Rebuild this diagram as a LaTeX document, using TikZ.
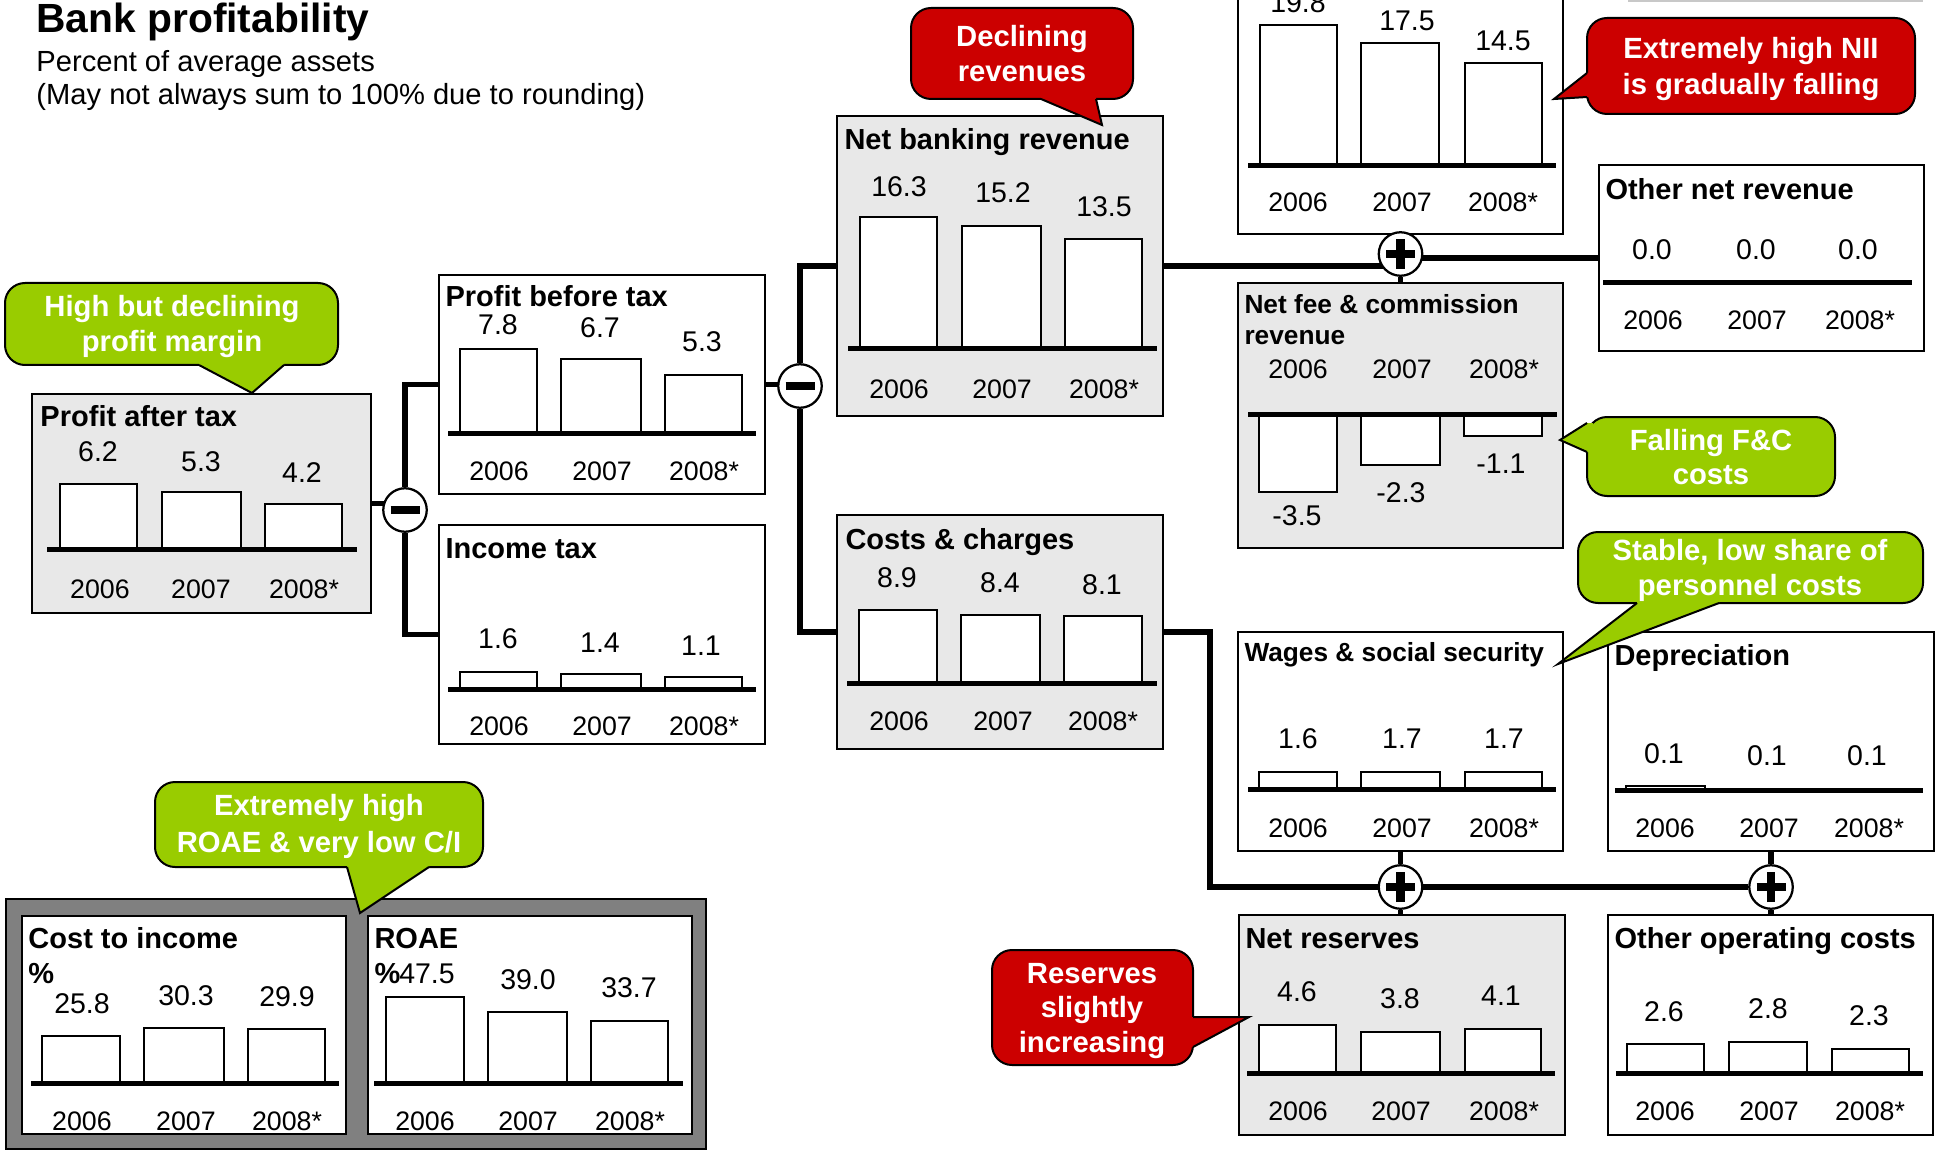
\documentclass[tikz,border=0pt]{standalone}
\usepackage{fontspec}
\setmainfont{Liberation Sans}
\usetikzlibrary{fit,backgrounds}
\pgfdeclarelayer{paper}
\pgfsetlayers{paper,background,main}
\definecolor{boxgray}{HTML}{E8E8E8}
\definecolor{framegray}{HTML}{808080}
\definecolor{cred}{HTML}{CC0000}
\definecolor{cgreen}{HTML}{99CC00}
\definecolor{linegray}{HTML}{C8C8C8}
\newcommand\mybar[4]{\draw[barst] (#1,#3) rectangle (#2,#4);}
\newcommand\myyears[5]{%
  \node[yr] (#1y1) at (#3,#2) {2006};
  \node[yr] (#1y2) at (#4,#2) {2007};
  \node[yr] (#1y3) at (#5,#2) {2008*};}
\begin{document}
\begin{tikzpicture}[x=0.4pt,y=-0.4pt,
  panel/.style={draw=black, line width=1pt, inner sep=0pt, fill=white},
  graypanel/.style={panel, fill=boxgray},
  barst/.style={draw=black, line width=0.8pt, fill=white},
  axisline/.style={line width=2pt},
  conn/.style={line width=2.2pt},
  ttl/.style={anchor=base west, inner sep=0pt, font=\bfseries\fontsize{11.6}{13}\selectfont},
  sttl/.style={anchor=base west, inner sep=0pt, font=\bfseries\fontsize{10.5}{12}\selectfont},
  val/.style={anchor=base, inner sep=0pt, font=\fontsize{11.4}{13}\selectfont},
  yr/.style={anchor=base, inner sep=0pt, font=\fontsize{10.7}{13}\selectfont},
  ctext/.style={anchor=base, inner sep=0pt, text=white, font=\bfseries\fontsize{11.7}{14}\selectfont},
  op/.style={circle, draw=black, line width=0.9pt, fill=white, minimum size=17.4pt, inner sep=0pt},
  opminus/.style={op, path picture={\draw[line width=3.5pt] ([xshift=-5.8pt]path picture bounding box.center) -- ([xshift=5.8pt]path picture bounding box.center);}},
  opplus/.style={op, path picture={\draw[line width=3.4pt] ([xshift=-5.8pt]path picture bounding box.center) -- ([xshift=5.8pt]path picture bounding box.center) ([yshift=-6pt]path picture bounding box.center) -- ([yshift=6pt]path picture bounding box.center);}},
  bubble/.style={draw=black, line width=0.8pt, rounded corners=8pt, inner sep=0pt},
  tailline/.style={draw=black, line width=0.8pt},
]
\useasboundingbox (0,0) rectangle (1943,1151);
\begin{pgfonlayer}{paper}
\fill[white] (0,0) rectangle (1943,1151);
\end{pgfonlayer}

% ---------- heading ----------
\node[anchor=base west, inner sep=0pt, font=\bfseries\fontsize{16.3}{19}\selectfont] (title) at (36,33) {Bank profitability};
\node[anchor=base west, inner sep=0pt, font=\fontsize{11.65}{14}\selectfont] (sub1) at (36,72) {Percent of average assets};
\node[anchor=base west, inner sep=0pt, font=\fontsize{11.65}{14}\selectfont] (sub2) at (36,105) {(May not always sum to 100\% due to rounding)};
\draw[linegray, line width=1.2pt] (1628,1) -- (1923,1);

% ---------- Profit after tax ----------
\node[graypanel, fit={(32,394) (371,613)}] (pat) {};
\node[ttl] (patt) at (40,427) {Profit after tax};
\mybar{60}{137}{484}{549}\mybar{162}{241}{492}{549}\mybar{265}{342}{504}{549}
\draw[axisline] (47,549) -- (357,549);
\node[val] (patv1) at (98,461) {6.2};
\node[val] (patv2) at (201,471) {5.3};
\node[val] (patv3) at (302,482) {4.2};
\myyears{pat}{598}{100}{201}{304}

% ---------- Profit before tax ----------
\node[panel, fit={(439,275) (765,494)}] (pbt) {};
\node[ttl] (pbtt) at (445,307) {Profit before tax};
\mybar{460}{537}{349}{433}\mybar{561}{641}{359}{433}\mybar{665}{742}{375}{433}
\draw[axisline] (448,433) -- (756,433);
\node[val] (pbtv1) at (498,335) {7.8};
\node[val] (pbtv2) at (600,338) {6.7};
\node[val] (pbtv3) at (702,352) {5.3};
\myyears{pbt}{480}{499}{602}{704}

% ---------- Income tax ----------
\node[panel, fit={(439,525) (765,744)}] (itx) {};
\node[ttl] (itxt) at (445,558) {Income tax};
\mybar{460}{537}{672}{689}\mybar{561}{641}{674}{689}\mybar{665}{742}{677}{689}
\draw[axisline] (448,689) -- (756,689);
\node[val] (itxv1) at (498,648) {1.6};
\node[val] (itxv2) at (600,652) {1.4};
\node[val] (itxv3) at (701,655) {1.1};
\myyears{itx}{735}{499}{602}{704}

% ---------- Net banking revenue ----------
\node[graypanel, fit={(837,116) (1163,416)}] (nbr) {};
\node[ttl] (nbrt) at (844,150) {Net banking revenue};
\mybar{860}{937}{217}{349}\mybar{962}{1041}{226}{349}\mybar{1065}{1142}{239}{349}
\draw[axisline] (848,349) -- (1157,349);
\node[val] (nbrv1) at (899,197) {16.3};
\node[val] (nbrv2) at (1003,203) {15.2};
\node[val] (nbrv3) at (1104,217) {13.5};
\myyears{nbr}{398}{899}{1002}{1104}

% ---------- Costs & charges ----------
\node[graypanel, fit={(837,515) (1163,749)}] (cc) {};
\node[ttl] (cct) at (845,549) {Costs \& charges};
\mybar{859}{937}{610}{683}\mybar{961}{1040}{615}{683}\mybar{1064}{1142}{616}{683}
\draw[axisline] (847,683) -- (1157,683);
\node[val] (ccv1) at (897,587) {8.9};
\node[val] (ccv2) at (1000,592) {8.4};
\node[val] (ccv3) at (1102,594) {8.1};
\myyears{cc}{730}{899}{1003}{1103}

% ---------- Net interest income (cut) ----------
\node[panel, fit={(1238,-30) (1563,234)}] (nii) {};
\mybar{1260}{1337}{25}{166}\mybar{1361}{1439}{43}{166}\mybar{1465}{1542}{63}{166}
\draw[axisline] (1248,166) -- (1556,166);
\node[val] (niiv1) at (1298,13) {19.8};
\node[val] (niiv2) at (1407,31) {17.5};
\node[val] (niiv3) at (1503,51) {14.5};
\myyears{nii}{212}{1298}{1402}{1503}

% ---------- Other net revenue ----------
\node[panel, fit={(1599,165) (1924,351)}] (onr) {};
\node[ttl] (onrt) at (1605,200) {Other net revenue};
\draw[axisline] (1603,283) -- (1912,283);
\node[val] (onrv1) at (1652,260) {0.0};
\node[val] (onrv2) at (1756,260) {0.0};
\node[val] (onrv3) at (1858,260) {0.0};
\myyears{onr}{330}{1653}{1757}{1860}

% ---------- Net fee & commission revenue ----------
\node[graypanel, fit={(1238,283) (1563,548)}] (nfc) {};
\node[sttl] (nfct) at (1244,314) {Net fee \& commission};
\node[sttl] (nfct2) at (1244,345) {revenue};
\myyears{nfc}{379}{1298}{1402}{1504}
\mybar{1259}{1337}{414}{492}\mybar{1361}{1440}{414}{465}\mybar{1464}{1542}{414}{436}
\draw[axisline] (1248,414) -- (1557,414);
\node[val] (nfcv1) at (1297,525) {-3.5};
\node[val] (nfcv2) at (1401,502) {-2.3};
\node[val] (nfcv3) at (1501,473) {-1.1};

% ---------- Wages & social security ----------
\node[panel, fit={(1238,632) (1563,851)}] (wag) {};
\node[sttl] (wagt) at (1244,661) {Wages \& social security};
\mybar{1259}{1337}{772}{789}\mybar{1361}{1440}{772}{789}\mybar{1465}{1542}{772}{789}
\draw[axisline] (1248,789) -- (1556,789);
\node[val] (wagv1) at (1298,748) {1.6};
\node[val] (wagv2) at (1402,748) {1.7};
\node[val] (wagv3) at (1504,748) {1.7};
\myyears{wag}{837}{1298}{1402}{1504}

% ---------- Depreciation ----------
\node[panel, fit={(1608,632) (1934,851)}] (dep) {};
\node[ttl] (dept) at (1614,665) {Depreciation};
\mybar{1626}{1705}{786}{790}
\draw[axisline] (1615,790) -- (1923,790);
\node[val] (depv1) at (1664,763) {0.1};
\node[val] (depv2) at (1767,765) {0.1};
\node[val] (depv3) at (1867,765) {0.1};
\myyears{dep}{837}{1665}{1769}{1869}

% ---------- Net reserves ----------
\node[graypanel, fit={(1239,915) (1565,1135)}] (nres) {};
\node[ttl] (nrest) at (1245,948) {Net reserves};
\mybar{1259}{1336}{1025}{1073}\mybar{1361}{1440}{1032}{1073}\mybar{1465}{1541}{1029}{1073}
\draw[axisline] (1247,1073) -- (1555,1073);
\node[val] (nresv1) at (1297,1001) {4.6};
\node[val] (nresv2) at (1400,1008) {3.8};
\node[val] (nresv3) at (1501,1005) {4.1};
\myyears{nres}{1120}{1298}{1401}{1504}

% ---------- Other operating costs ----------
\node[panel, fit={(1608,915) (1933,1135)}] (ooc) {};
\node[ttl] (ooct) at (1614,948) {Other operating costs};
\mybar{1627}{1704}{1044}{1073}\mybar{1729}{1807}{1042}{1073}\mybar{1832}{1909}{1049}{1073}
\draw[axisline] (1616,1073) -- (1923,1073);
\node[val] (oocv1) at (1664,1021) {2.6};
\node[val] (oocv2) at (1768,1018) {2.8};
\node[val] (oocv3) at (1869,1025) {2.3};
\myyears{ooc}{1120}{1665}{1769}{1870}

% ---------- Ratios frame ----------
\node[draw=black, line width=1pt, fill=framegray, inner sep=0pt, fit={(6,899) (706,1149)}] (frame) {};
\node[panel, fit={(22,916) (346,1134)}] (cti) {};
\node[ttl] (ctit) at (28,948) {Cost to income};
\node[ttl] (ctip) at (28,983) {\%};
\mybar{42}{120}{1036}{1083}\mybar{144}{224}{1028}{1083}\mybar{248}{325}{1029}{1083}
\draw[axisline] (31,1083) -- (339,1083);
\node[val] (ctiv1) at (82,1013) {25.8};
\node[val] (ctiv2) at (186,1005) {30.3};
\node[val] (ctiv3) at (287,1006) {29.9};
\myyears{cti}{1130}{82}{186}{287}

\node[panel, fit={(368,916) (692,1134)}] (roae) {};
\node[ttl] (roaet) at (374,948) {ROAE};
\node[ttl] (roaep) at (374,983) {\%};
\mybar{386}{464}{997}{1083}\mybar{488}{567}{1012}{1083}\mybar{591}{668}{1021}{1083}
\draw[axisline] (374,1083) -- (683,1083);
\node[val] (roaev1) at (427,983) {47.5};
\node[val] (roaev2) at (528,989) {39.0};
\node[val] (roaev3) at (629,997) {33.7};
\myyears{roae}{1130}{425}{528}{630}

% ---------- operators ----------
\node[opminus] (m1) at (405,510) {};
\node[opminus] (m2) at (800,386) {};
\node[opplus] (p1) at (1400.5,254) {};
\node[opplus] (p2) at (1400.5,887) {};
\node[opplus] (p3) at (1771,887) {};
\coordinate (cbend) at (1210,887);

% ---------- connectors ----------
\begin{pgfonlayer}{background}
\draw[conn] (pat.east) -- (pat.east -| m1);
\draw[conn] (pbt.west) -| (m1);
\draw[conn] (itx.west) -| (m1);
\draw[conn] (pbt.east) -- (pbt.east -| m2);
\draw[conn] (nbr.west) -| (m2);
\draw[conn] (cc.west) -| (m2);
\draw[conn] (nbr.east) -- (nbr.east -| p1);
\draw[conn] (p1 |- onr.west) -- (onr.west);
\draw[conn] (p1) -- (p1 |- nfc.north);
\draw[conn] (cc.east) -| (cbend) -- (p2);
\draw[conn] (p2) -- (p3);
\draw[conn] (wag.south -| p2) -- (p2);
\draw[conn] (p2) -- (p2 |- nres.north);
\draw[conn] (dep.south -| p3) -- (p3);
\draw[conn] (p3) -- (p3 |- ooc.north);
\end{pgfonlayer}

% ---------- callouts ----------
\node[bubble, fill=cgreen, fit={(5,283) (338,365)}] (g1) {};
\fill[cgreen] (199,359) -- (199,365) -- (252,393) -- (284,365) -- (284,359) -- cycle;
\draw[tailline] (199,365) -- (252,393) -- (284,365);
\node[ctext] (g1a) at (172,317) {High but declining};
\node[ctext] (g1b) at (172,352) {profit margin};

\node[bubble, fill=cred, fit={(911,8) (1133,99)}] (r1) {};
\fill[cred] (1041,93) -- (1041,99) -- (1102,125) -- (1096,99) -- (1096,93) -- cycle;
\draw[tailline] (1041,99) -- (1102,125) -- (1096,99);
\node[ctext] (r1a) at (1022,47) {Declining};
\node[ctext] (r1b) at (1022,82) {revenues};

\node[bubble, fill=cred, fit={(1587,18) (1915,114)}] (r2) {};
\fill[cred] (1593,73) -- (1587,73) -- (1554,99) -- (1587,97) -- (1593,97) -- cycle;
\draw[tailline] (1587,73) -- (1554,99) -- (1587,97);
\node[ctext] (r2a) at (1751,59) {Extremely high NII};
\node[ctext] (r2b) at (1751,95) {is gradually falling};

\node[bubble, fill=cgreen, fit={(1587,417) (1835,496)}] (g2) {};
\fill[cgreen] (1593,423) -- (1587,423) -- (1560,440) -- (1587,452) -- (1593,452) -- cycle;
\draw[tailline] (1587,423) -- (1560,440) -- (1587,452);
\node[ctext] (g2a) at (1711,450) {Falling F\&C};
\node[ctext] (g2b) at (1711,484) {costs};

\node[bubble, fill=cgreen, fit={(1578,532) (1923,603)}] (g3) {};
\fill[cgreen] (1637,597) -- (1637,603) -- (1558,664) -- (1719,603) -- (1719,597) -- cycle;
\draw[tailline] (1637,603) -- (1558,664) -- (1719,603);
\node[ctext] (g3a) at (1750,560) {Stable, low share of};
\node[ctext] (g3b) at (1750,595) {personnel costs};

\node[bubble, fill=cred, fit={(992,950) (1193,1065)}] (r3) {};
\fill[cred] (1187,1017) -- (1193,1017) -- (1249,1017) -- (1193,1047) -- (1187,1047) -- cycle;
\draw[tailline] (1193,1017) -- (1249,1017) -- (1193,1047);
\node[ctext] (r3a) at (1092,983) {Reserves};
\node[ctext] (r3b) at (1092,1017) {slightly};
\node[ctext] (r3c) at (1092,1052) {increasing};

\node[bubble, fill=cgreen, fit={(155,782) (483,867)}] (g4) {};
\fill[cgreen] (347,861) -- (347,867) -- (360,913) -- (429,867) -- (429,861) -- cycle;
\draw[tailline] (347,867) -- (360,913) -- (429,867);
\node[ctext] (g4a) at (319,815) {Extremely high};
\node[ctext] (g4b) at (319,852) {ROAE \& very low C/I};
\end{tikzpicture}
\end{document}
